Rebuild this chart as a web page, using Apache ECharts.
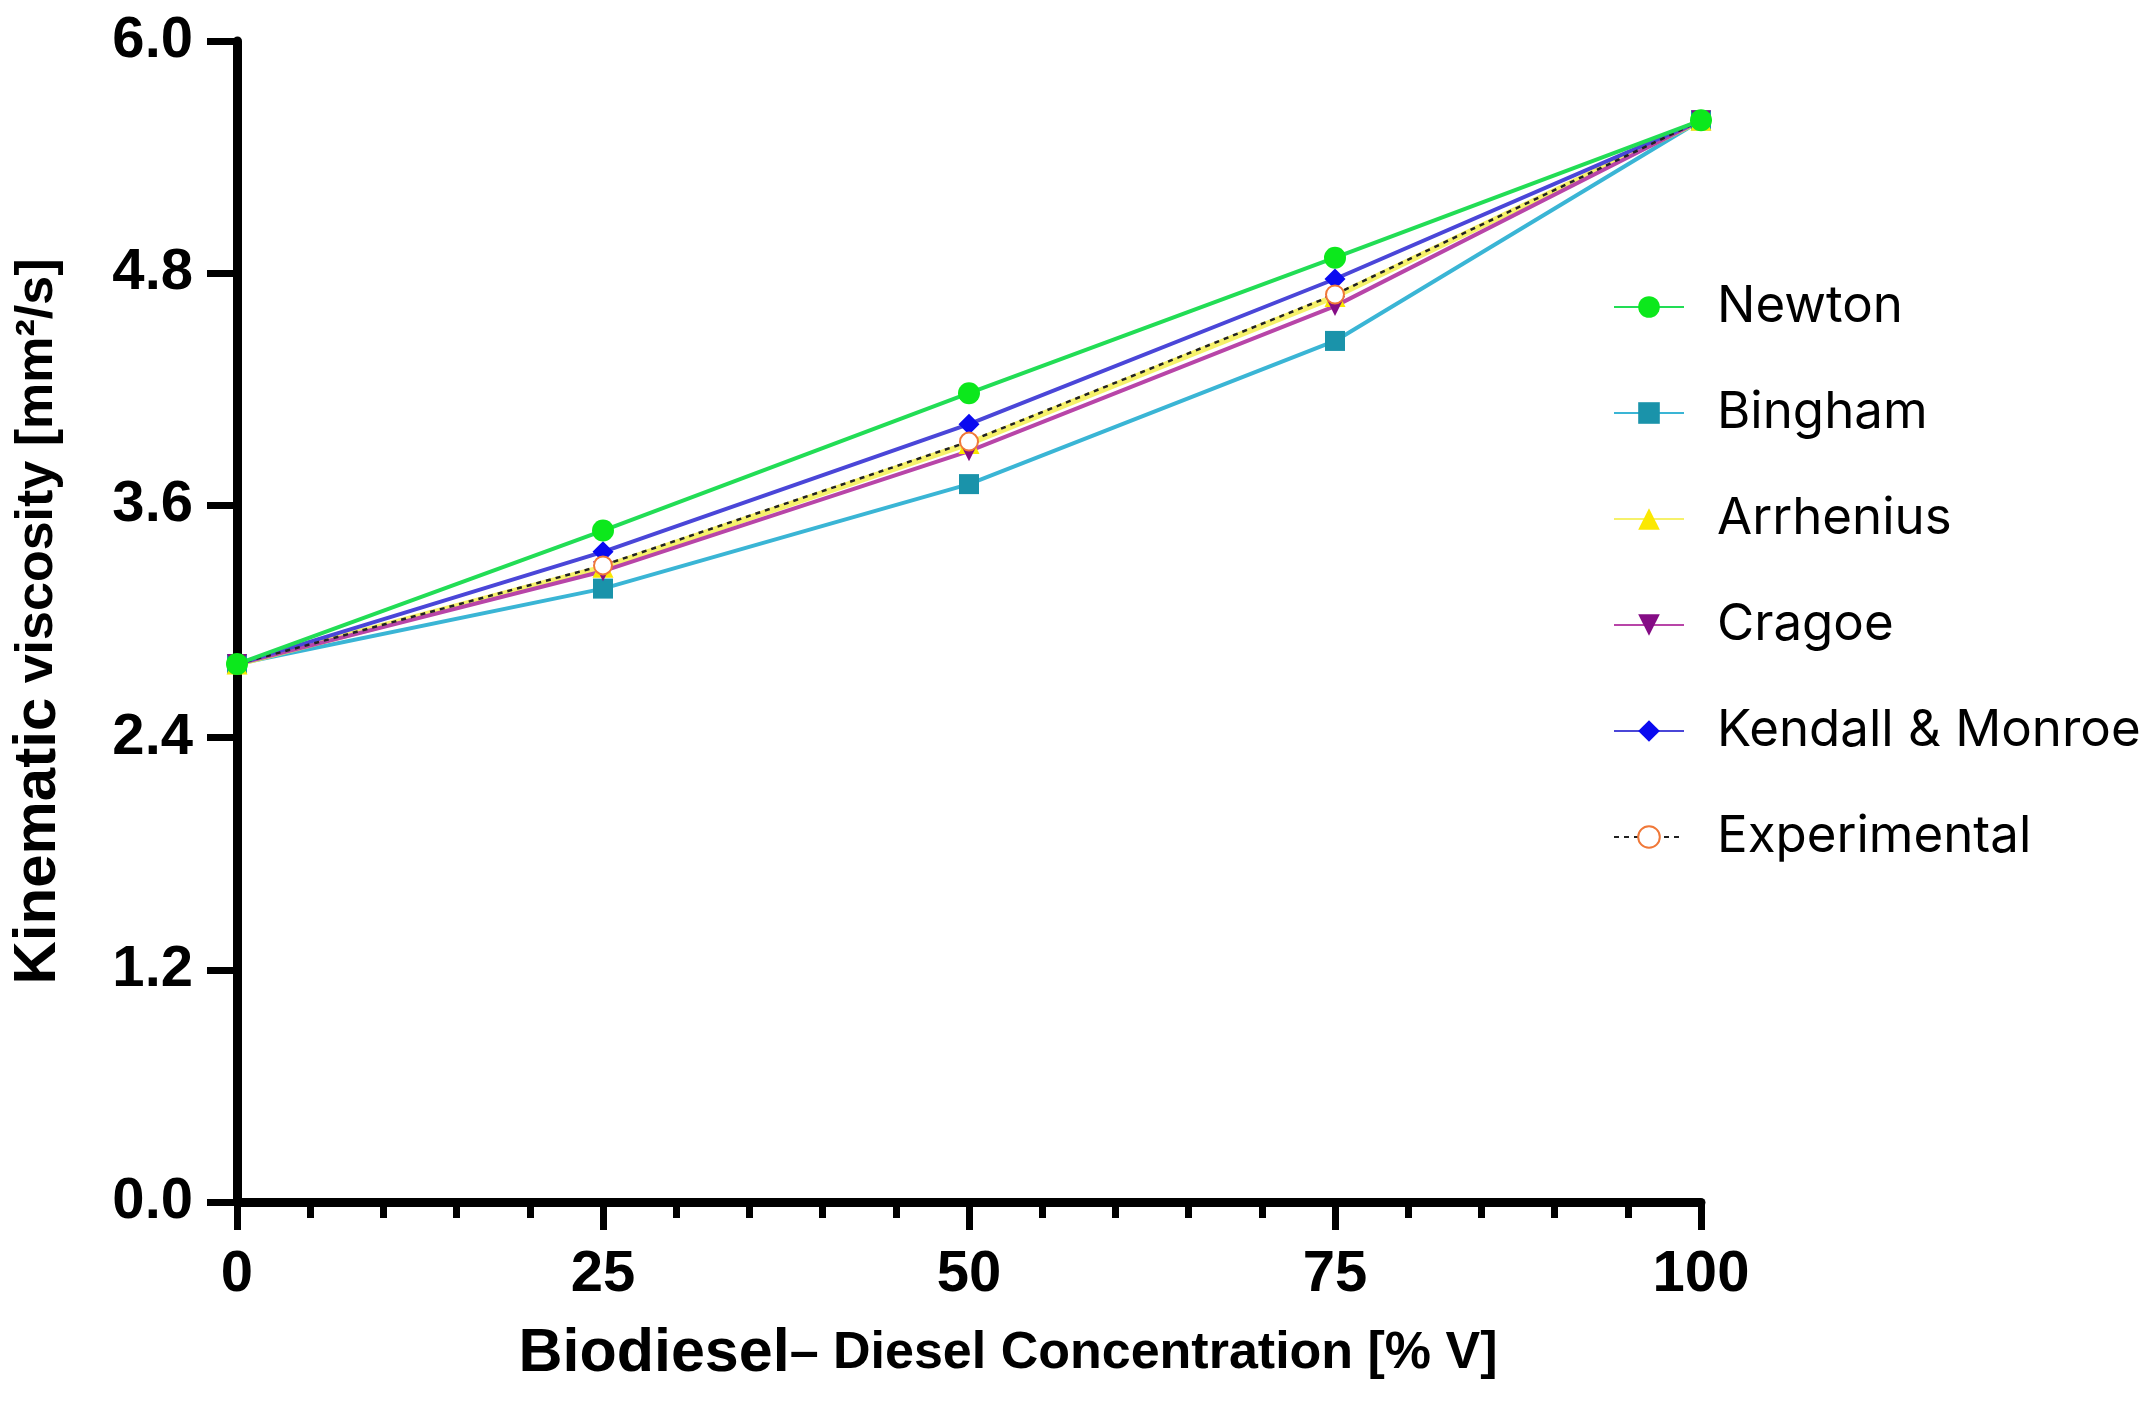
<!DOCTYPE html>
<html>
<head>
<meta charset="utf-8">
<title>Kinematic viscosity</title>
<script src="https://cdn.jsdelivr.net/npm/echarts@6/dist/echarts.min.js"></script>
<style>
  html, body { margin: 0; padding: 0; background: #fff; }
  #chart { width: 2154px; height: 1407px; }
</style>
</head>
<body>
<div id="chart"></div>
<script>
// concentration of biodiesel in the blend, % V
var concentration = [0, 25, 50, 75, 100];

// kinematic viscosity, mm2/s
var newton       = [2.78, 3.47, 4.18, 4.88, 5.59];
var bingham      = [2.78, 3.17, 3.71, 4.45, 5.59];
var arrhenius    = [2.78, 3.28, 3.92, 4.68, 5.59];
var cragoe       = [2.78, 3.26, 3.88, 4.63, 5.59];
var kendall      = [2.78, 3.36, 4.02, 4.77, 5.59];
var experimental = [2.78, 3.29, 3.93, 4.69, 5.59];

var seriesNames = ['Newton', 'Bingham', 'Arrhenius', 'Cragoe', 'Kendall & Monroe', 'Experimental'];

var myChart = echarts.init(document.getElementById('chart'));

function pairs(values) {
    return concentration.map(function (x, i) { return [x, values[i]]; });
}

var FONT = 'Liberation Sans';

var option = {
    backgroundColor: '#ffffff',
    animation: false,
    grid: { left: 231, right: 453, top: 41, bottom: 205 },
    legend: {
        orient: 'vertical',
        left: 1608,
        top: 276,
        itemWidth: 70,
        itemHeight: 27,
        itemGap: 54,
        data: seriesNames,
        textStyle: {
            fontFamily: 'Inter',
            fontSize: 51,
            lineHeight: 52,
            color: '#000',
            padding: [0, 0, 0, 28]
        }
    },
    xAxis: {
        type: 'value',
        min: 0,
        max: 100,
        interval: 25,
        splitLine: { show: false },
        axisLine: { lineStyle: { color: '#000', width: 9 } },
        axisTick: { length: 28, lineStyle: { color: '#000', width: 7 } },
        minorTick: { show: true, splitNumber: 5, length: 16, lineStyle: { color: '#000', width: 7 } },
        axisLabel: { margin: 44, fontFamily: FONT, fontWeight: 'bold', fontSize: 58, color: '#000' },
        name: '{a|Biodiesel}{b|– Diesel Concentration [% V]}',
        nameLocation: 'middle',
        nameGap: 122,
        nameTextStyle: {
            padding: [0, 0, 0, 78],
            rich: {
                a: { fontFamily: FONT, fontWeight: 'bold', fontSize: 61, lineHeight: 60, color: '#000' },
                b: { fontFamily: FONT, fontWeight: 'bold', fontSize: 52, lineHeight: 60, color: '#000' }
            }
        }
    },
    yAxis: {
        type: 'value',
        min: 0,
        max: 6,
        interval: 1.2,
        splitLine: { show: false },
        axisLine: { lineStyle: { color: '#000', width: 9 } },
        axisTick: { length: 30, lineStyle: { color: '#000', width: 7 } },
        axisLabel: {
            margin: 44,
            fontFamily: FONT, fontWeight: 'bold', fontSize: 58, color: '#000',
            formatter: function (v) { return v.toFixed(1); }
        },
        name: '{a|Kinematic}{b| viscosity [mm²/s]}',
        nameLocation: 'middle',
        nameRotate: 90,
        nameGap: 168,
        nameTextStyle: {
            rich: {
                a: { fontFamily: FONT, fontWeight: 'bold', fontSize: 60, lineHeight: 62, color: '#000' },
                b: { fontFamily: FONT, fontWeight: 'bold', fontSize: 52, lineHeight: 62, color: '#000' }
            }
        }
    },
    series: [
        {
            name: 'Newton', type: 'line', data: pairs(newton), z: 4,
            symbol: 'circle', symbolSize: 22,
            lineStyle: { color: '#22dd55', width: 4 },
            itemStyle: { color: '#0ce81c' }
        },
        {
            name: 'Bingham', type: 'line', data: pairs(bingham),
            symbol: 'rect', symbolSize: 20,
            lineStyle: { color: '#3ab5d5', width: 4 },
            itemStyle: { color: '#1a93aa' }
        },
        {
            name: 'Arrhenius', type: 'line', data: pairs(arrhenius), z: 3,
            symbol: 'triangle', symbolSize: 21,
            lineStyle: { color: '#f4ee50', width: 6, opacity: 0.85 },
            itemStyle: { color: '#fbe800' }
        },
        {
            name: 'Cragoe', type: 'line', data: pairs(cragoe),
            symbol: 'triangle', symbolRotate: 180, symbolSize: 20,
            lineStyle: { color: '#b845a8', width: 4 },
            itemStyle: { color: '#850c85' }
        },
        {
            name: 'Kendall & Monroe', type: 'line', data: pairs(kendall),
            symbol: 'diamond', symbolSize: 21,
            lineStyle: { color: '#4a46d8', width: 4 },
            itemStyle: { color: '#0a0af0' }
        },
        {
            name: 'Experimental', type: 'line', data: pairs(experimental),
            symbol: 'emptyCircle', symbolSize: 18,
            lineStyle: { color: '#222', width: 2.5, type: [5, 5] },
            itemStyle: { color: '#f07838', borderColor: '#f07838', borderWidth: 3 }
        }
    ]
};

myChart.setOption(option);
window.addEventListener('resize', function () {
    myChart.resize();
});
</script>
</body>
</html>
